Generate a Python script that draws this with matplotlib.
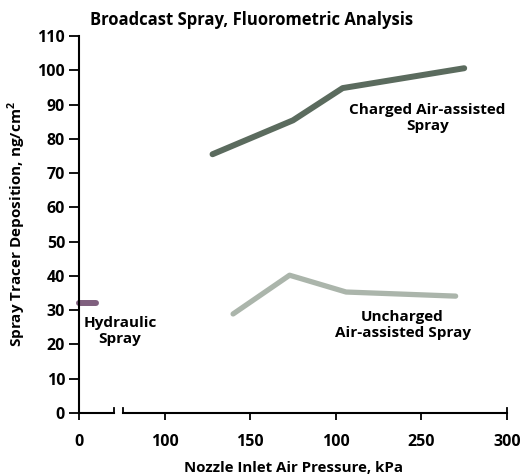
import matplotlib
matplotlib.use("Agg")
import matplotlib.pyplot as plt
import matplotlib.transforms as mtransforms

plt.rcParams['font.family'] = ['Open Sans', 'DejaVu Sans']
plt.rcParams['font.weight'] = 'bold'
plt.rcParams['axes.labelweight'] = 'bold'

# Data (pressure in kPa, deposition in ng/cm2)
charged_p = [128, 175, 204, 275]
charged_dep = [75.5, 85.4, 94.8, 100.6]
uncharged_p = [140, 173, 206, 270]
uncharged_dep = [28.9, 40.2, 35.3, 34.1]
hydraulic_p = [0, 20]
hydraulic_dep = [32, 32]

tick_pos = [0, 1, 2, 3, 4, 5]
tick_labels = ["0", "100", "150", "100", "250", "300"]
y_ticks = list(range(0, 111, 10))


def to_pos(p):
    # broken axis: 0-100 on first segment, then 50 kPa per unit
    if p <= 100:
        return p / 100.0
    return 1 + (p - 100) / 50.0


fig = plt.figure(figsize=(5.22, 4.76), dpi=100)
ax = fig.add_axes([79 / 522, 1 - 413 / 476, (507 - 79) / 522, (413 - 36) / 476])

ax.plot([to_pos(p) for p in charged_p], charged_dep, color="#5b6b5e", lw=4.3,
        solid_capstyle="round", solid_joinstyle="round")
ax.plot([to_pos(p) for p in uncharged_p], uncharged_dep, color="#abb5ab", lw=3.8,
        solid_capstyle="round", solid_joinstyle="round")
ax.plot([to_pos(p) for p in hydraulic_p], hydraulic_dep, color="#80607f", lw=4.3,
        solid_capstyle="round", clip_on=False)

ax.set_xlim(0, 5)
ax.set_ylim(0, 110)
for s in ["top", "right", "bottom"]:
    ax.spines[s].set_visible(False)
ax.spines["left"].set_linewidth(1.5)

ax.set_yticks(y_ticks)
ax.set_xticks(tick_pos)
ax.set_xticklabels(tick_labels)
ax.tick_params(axis="y", length=7, width=1.3, labelsize=11.5, pad=3)
ax.tick_params(axis="x", length=5, width=1.3, labelsize=11.5, pad=10)

# broken x axis line
trans = mtransforms.blended_transform_factory(ax.transData, ax.transAxes)
b1, b2 = 0.41, 0.51
ax.plot([0, b1], [0, 0], color="black", lw=1.5, transform=trans, clip_on=False)
ax.plot([b2, 5], [0, 0], color="black", lw=1.5, transform=trans, clip_on=False)
for bx in [b1, b2]:
    ax.plot([bx, bx], [0, 0.014], color="black", lw=1.3, transform=trans, clip_on=False)
ax.plot([5, 5], [0, 0.014], color="black", lw=1.3, transform=trans, clip_on=False)

ax.set_xlabel("Nozzle Inlet Air Pressure, kPa", fontsize=10.8, labelpad=8)
ax.set_ylabel("Spray Tracer Deposition, ng/cm$^\\mathregular{2}$", fontsize=11, labelpad=7)

ax.text(4.07, 86, "Charged Air-assisted\nSpray", ha="center", va="center",
        fontsize=11, linespacing=1.2)
ax.text(3.78, 25.7, "Uncharged\nAir-assisted Spray", ha="center", va="center",
        fontsize=11, linespacing=1.2)
ax.text(0.48, 24, "Hydraulic\nSpray", ha="center", va="center",
        fontsize=11, linespacing=1.2)

fig.text(252 / 522, 1 - 20 / 476, "Broadcast Spray, Fluorometric Analysis",
         ha="center", va="center", fontsize=12)

fig.savefig("out.png", dpi=100)
